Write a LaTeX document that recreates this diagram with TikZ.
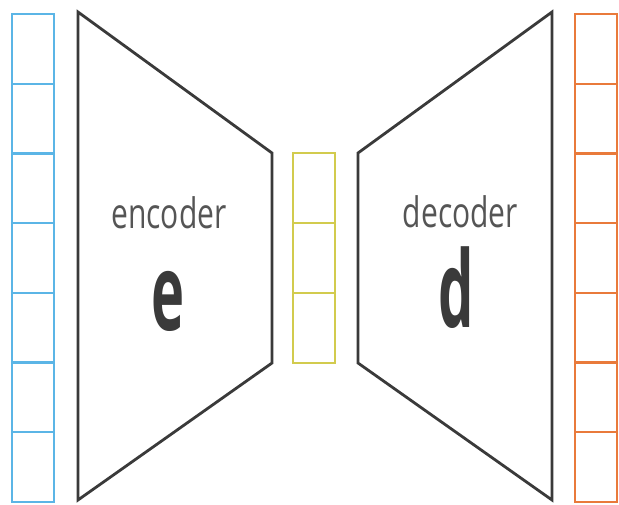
\documentclass[tikz,border=0pt]{standalone}
\usepackage{fontspec}
\usepackage{tikz}
\usetikzlibrary{positioning}
\usepackage{xcolor}
\newfontfamily\labelfont{Open Sans}
\definecolor{inblue}{HTML}{5BB5E6}
\definecolor{outorange}{HTML}{E97A3B}
\definecolor{codeyellow}{HTML}{D2CB4E}
\definecolor{netgray}{HTML}{3A3A3A}
\definecolor{textgray}{HTML}{555555}

\begin{document}
\begin{tikzpicture}[
  x=1pt, y=-1pt,
  cell/.style={draw, line width=2.4pt, minimum width=42pt,
               minimum height=69.7pt, inner sep=0pt},
  net/.style={draw=netgray, line width=2.8pt, line join=miter},
  netname/.style={font=\labelfont\fontsize{30}{30}\selectfont, text=textgray, anchor=base},
  netletter/.style={font=\labelfont\bfseries\fontsize{56}{56}\selectfont, text=netgray, anchor=base},
]
  \useasboundingbox (0,0) rectangle (619,504);
  % input and output columns
  \foreach \i in {1,...,7} {
    \node[cell, draw=inblue] (in\i) at (33,{14+69.7*(\i-0.5)}) {};
    \node[cell, draw=outorange] (out\i) at (596,{14+69.7*(\i-0.5)}) {};
  }
  % code in the middle
  \foreach \i in {1,2,3}
    \node[cell, draw=codeyellow, minimum height=70pt] (code\i) at (314,{153+70*(\i-0.5)}) {};
  % the two halves
  \draw[net] (78,12) -- (272,153) -- (272,363) -- (78,500) -- cycle;
  \draw[net] (552,12) -- (358,153) -- (358,363) -- (552,500) -- cycle;
  \node[netname] (enc) at (169,228) {\scalebox{1}[1.4]{encoder}};
  \node[netletter] (e) at (168,330) {\scalebox{1}[1.9]{e}};
  \node[netname] (dec) at (460.5,227) {\scalebox{1}[1.4]{decoder}};
  \node[netletter] (d) at (456.5,327) {\scalebox{1}[1.9]{d}};
\end{tikzpicture}
\end{document}
